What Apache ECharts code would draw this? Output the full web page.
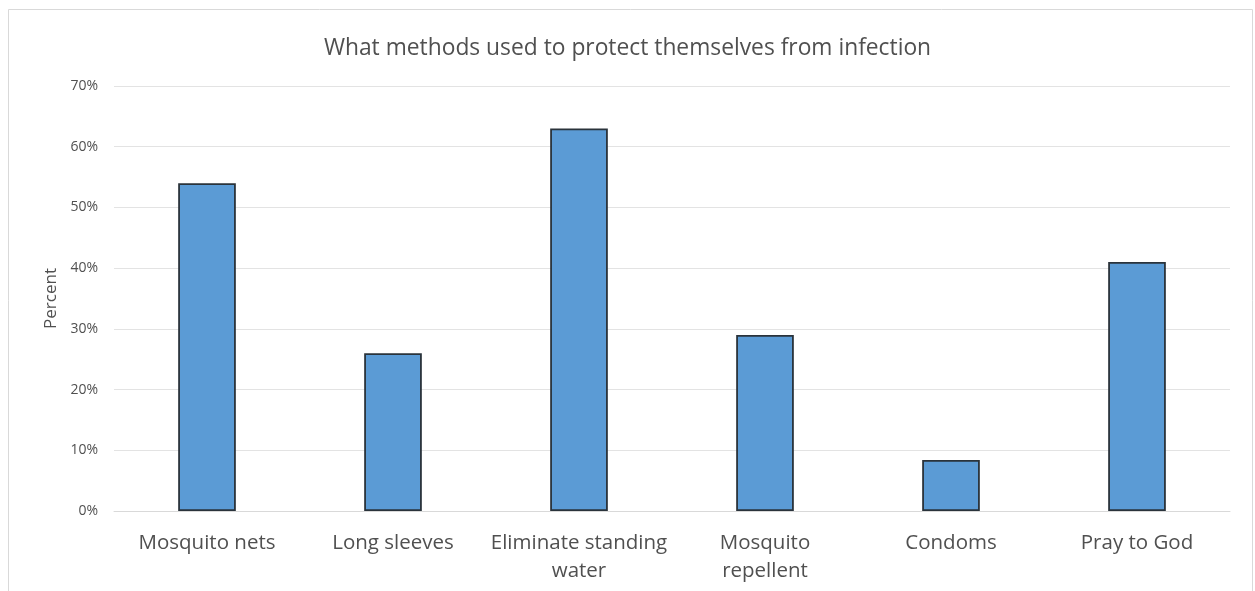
<!DOCTYPE html>
<html>
<head>
<meta charset="utf-8">
<script src="https://cdn.jsdelivr.net/npm/echarts@6/dist/echarts.min.js"></script>
<style>
  html, body { margin: 0; padding: 0; background: #fff; }
  #chart { width: 1255px; height: 591px; }
</style>
</head>
<body>
<div id="chart"></div>
<script>
// Protection methods and share of respondents using each (percent)
const categories = ['Mosquito nets', 'Long sleeves', 'Eliminate standing\nwater', 'Mosquito\nrepellent', 'Condoms', 'Pray to God'];
const percentValues = [54, 26, 63, 29, 8.4, 41];
const yTicks = { min: 0, max: 70, interval: 10 };

const textColor = '#505050';
const fontFamily = '"Open Sans", "Liberation Sans", sans-serif';

const chart = echarts.init(document.getElementById('chart'), null, { renderer: 'canvas' });
chart.setOption({
  backgroundColor: '#fff',
  animation: false,
  title: {
    text: 'What methods used to protect themselves from infection',
    left: 'center',
    top: 32,
    textStyle: { color: textColor, fontSize: 22.8, fontWeight: 'normal', fontFamily }
  },
  graphic: [{
    type: 'rect',
    shape: { x: 8.5, y: 9.5, width: 1244, height: 600 },
    style: { fill: 'none', stroke: '#d9d9d9', lineWidth: 1 },
    silent: true
  }],
  grid: { left: 114, right: 25, top: 86, bottom: 80 },
  xAxis: {
    type: 'category',
    data: categories,
    axisLine: { show: true, lineStyle: { color: '#d9d9d9', width: 1 } },
    axisTick: { show: false },
    axisLabel: { color: textColor, fontSize: 20.5, fontFamily, margin: 18, lineHeight: 28, interval: 0 }
  },
  yAxis: {
    type: 'value',
    min: yTicks.min,
    max: yTicks.max,
    interval: yTicks.interval,
    name: 'Percent',
    nameLocation: 'middle',
    nameGap: 54,
    nameTextStyle: { color: textColor, fontSize: 17, fontFamily },
    axisLine: { show: false },
    axisTick: { show: false },
    axisLabel: { color: textColor, fontSize: 14, fontFamily, margin: 16, formatter: v => v + '%' },
    splitLine: { lineStyle: { color: '#e3e3e3', width: 1 } }
  },
  series: [{
    type: 'bar',
    data: percentValues,
    barWidth: '31%',
    itemStyle: { color: '#5b9bd5', borderColor: '#2a333b', borderWidth: 1.8 }
  }]
});
</script>
</body>
</html>
